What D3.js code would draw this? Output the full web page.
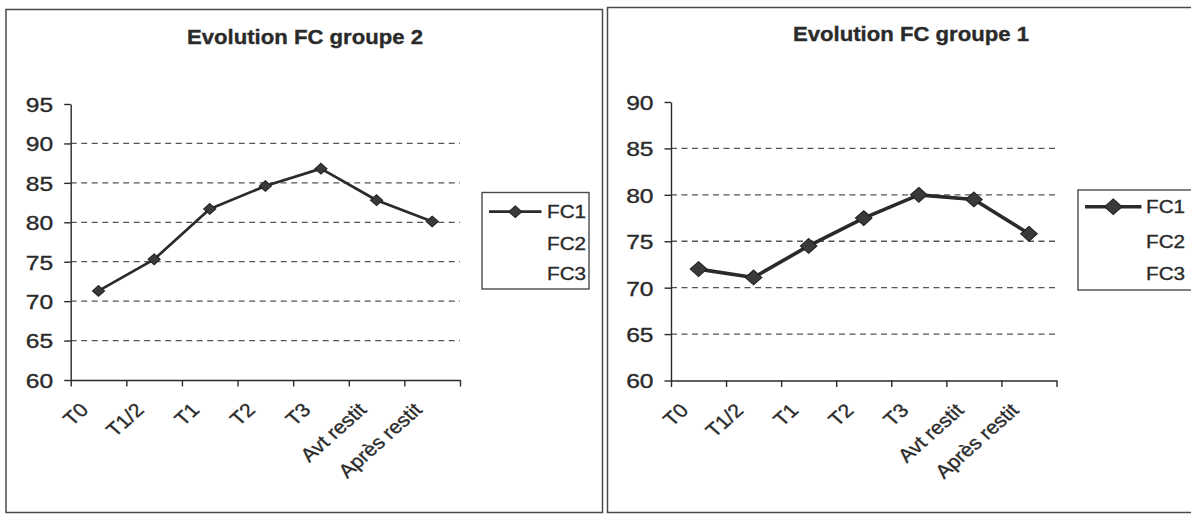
<!DOCTYPE html>
<html>
<head>
<meta charset="utf-8">
<script src="https://cdn.jsdelivr.net/npm/d3@7"></script>
<style>
  html, body { margin: 0; padding: 0; background: #fff; }
  svg { display: block; font-family: "Liberation Sans", Arial, sans-serif; }
  svg text { stroke: #2a2a2a; stroke-width: 0.35px; paint-order: stroke; }
</style>
</head>
<body>
<svg id="chart" width="1191" height="514"></svg>
<script>
// Heart-rate (FC) follow-up, two groups
const categories = ["T0", "T1/2", "T1", "T2", "T3", "Avt restit", "Après restit"];
const fcGroupe2 = [71.3, 75.3, 81.7, 84.6, 86.8, 82.8, 80.1];
const fcGroupe1 = [72.0, 71.1, 74.5, 77.5, 80.0, 79.5, 75.8];
const ticksGroupe2 = [60, 65, 70, 75, 80, 85, 90, 95];
const ticksGroupe1 = [60, 65, 70, 75, 80, 85, 90];
const seriesNames = ["FC1", "FC2", "FC3"];
const titleGroupe2 = "Evolution FC groupe 2";
const titleGroupe1 = "Evolution FC groupe 1";

const svg = d3.select("#chart");
const SX = 1.12;           // horizontal stretch of the lettering
const ink = "#2a2a2a";

const panels = [
  {
    title: titleGroupe2, values: fcGroupe2, ticks: ticksGroupe2,
    frame: { x0: 6, y0: 9.5, x1: 602.5, y1: 512.5 },
    plot: { left: 70.7, right: 460, top: 104, bottom: 380 },
    titlePos: { x: 305, y: 44 },
    legend: { x: 482, y: 192.5, w: 107, h: 96.5, lineX0: 489, lineX1: 541.5, textX: 547, rows: [211.7, 243.3, 273.3] },
    lineWidth: 2.7, markerR: 5.4, legendMarkerR: 5.8
  },
  {
    title: titleGroupe1, values: fcGroupe1, ticks: ticksGroupe1,
    frame: { x0: 607.5, y0: 7.5, x1: 1198, y1: 512.5 },
    plot: { left: 671, right: 1056.5, top: 102, bottom: 380.5 },
    titlePos: { x: 911, y: 41 },
    legend: { x: 1078, y: 190, w: 130, h: 100, lineX0: 1085, lineX1: 1141.5, textX: 1146, rows: [206.7, 241, 273] },
    lineWidth: 3.6, markerR: 7.4, legendMarkerR: 7.8
  }
];

const diamondType = d3.symbolDiamond2 || d3.symbolSquare;
function diamond(r) {
  // symbolDiamond2 radius = sqrt(size) * 0.62625
  return d3.symbol().type(diamondType).size(Math.pow(r / 0.62625, 2))();
}

panels.forEach(p => {
  const g = svg.append("g");

  // outer frame of the chart object
  g.append("rect")
    .attr("x", p.frame.x0).attr("y", p.frame.y0)
    .attr("width", p.frame.x1 - p.frame.x0).attr("height", p.frame.y1 - p.frame.y0)
    .attr("fill", "#fff").attr("stroke", "#4a4a4a").attr("stroke-width", 1.5);

  // title
  g.append("text")
    .attr("transform", `translate(${p.titlePos.x},${p.titlePos.y}) scale(1.08,1)`)
    .attr("text-anchor", "middle")
    .attr("font-size", 20.5).attr("font-weight", "bold").attr("fill", ink)
    .text(p.title);

  const x = d3.scaleBand().domain(categories).range([p.plot.left, p.plot.right]).padding(0);
  const y = d3.scaleLinear().domain([d3.min(p.ticks), d3.max(p.ticks)]).range([p.plot.bottom, p.plot.top]);

  // dashed horizontal gridlines
  const inner = p.ticks.slice(1, -1);
  g.append("g").selectAll("line").data(inner).join("line")
    .attr("x1", p.plot.left).attr("x2", p.plot.right)
    .attr("y1", d => y(d)).attr("y2", d => y(d))
    .attr("stroke", "#555").attr("stroke-width", 1.3).attr("stroke-dasharray", "6,4.5");

  // y axis
  const yAxis = g.append("g")
    .attr("transform", `translate(${p.plot.left},0)`)
    .call(d3.axisLeft(y).tickValues(p.ticks).tickSize(6.5).tickSizeOuter(0).tickFormat(d3.format("d")));
  yAxis.select(".domain").attr("stroke", ink).attr("stroke-width", 1.4);
  yAxis.selectAll(".tick line").attr("stroke", ink).attr("stroke-width", 1.4);
  yAxis.selectAll(".tick text")
    .attr("x", 0).attr("dy", "0.36em")
    .attr("transform", `translate(-17.5,0) scale(1.2,1)`)
    .attr("font-size", 20.5).attr("font-family", "Liberation Sans, Arial, sans-serif")
    .attr("fill", ink);

  // x axis: tick marks on the category boundaries
  const xEdges = d3.scaleLinear().domain([0, categories.length]).range([p.plot.left, p.plot.right]);
  const xTicks = g.append("g")
    .attr("transform", `translate(0,${p.plot.bottom})`)
    .call(d3.axisBottom(xEdges).ticks(categories.length).tickSize(6.5).tickSizeOuter(0).tickFormat(""));
  xTicks.select(".domain").attr("stroke", ink).attr("stroke-width", 1.4);
  xTicks.selectAll(".tick line").attr("stroke", ink).attr("stroke-width", 1.4);

  // category labels, slanted
  const xLabels = g.append("g")
    .attr("transform", `translate(0,${p.plot.bottom})`)
    .call(d3.axisBottom(x).tickSize(0).tickSizeOuter(0));
  xLabels.select(".domain").remove();
  xLabels.selectAll(".tick text")
    .attr("x", 0).attr("y", 0).attr("dy", 0)
    .attr("text-anchor", "end")
    .attr("transform", `translate(-9,31) scale(${SX},1) rotate(-45)`)
    .attr("font-size", 19).attr("font-family", "Liberation Sans, Arial, sans-serif")
    .attr("fill", ink);

  // FC1 series
  const line = d3.line()
    .x((d, i) => x(categories[i]) + x.bandwidth() / 2)
    .y(d => y(d));
  g.append("path").datum(p.values)
    .attr("d", line).attr("fill", "none")
    .attr("stroke", ink).attr("stroke-width", p.lineWidth).attr("stroke-linejoin", "round");

  g.append("g").selectAll("path").data(p.values).join("path")
    .attr("d", diamond(p.markerR))
    .attr("transform", (d, i) => `translate(${x(categories[i]) + x.bandwidth() / 2},${y(d)}) scale(${SX},1)`)
    .attr("fill", "#3a3a3a").attr("stroke", "#222").attr("stroke-width", 1);

  // legend
  const L = p.legend;
  g.append("rect")
    .attr("x", L.x).attr("y", L.y).attr("width", L.w).attr("height", L.h)
    .attr("fill", "#fff").attr("stroke", "#4a4a4a").attr("stroke-width", 1.4);
  g.append("line")
    .attr("x1", L.lineX0).attr("x2", L.lineX1).attr("y1", L.rows[0]).attr("y2", L.rows[0])
    .attr("stroke", ink).attr("stroke-width", p.lineWidth);
  g.append("path")
    .attr("d", diamond(p.legendMarkerR))
    .attr("transform", `translate(${(L.lineX0 + L.lineX1) / 2},${L.rows[0]}) scale(${SX},1)`)
    .attr("fill", "#3a3a3a").attr("stroke", "#222").attr("stroke-width", 1);
  g.append("g").selectAll("text").data(seriesNames).join("text")
    .attr("transform", (d, i) => `translate(${L.textX},${L.rows[i]}) scale(${SX},1)`)
    .attr("dy", "0.36em")
    .attr("font-size", 18.5).attr("fill", ink)
    .text(d => d);
});
</script>
</body>
</html>
